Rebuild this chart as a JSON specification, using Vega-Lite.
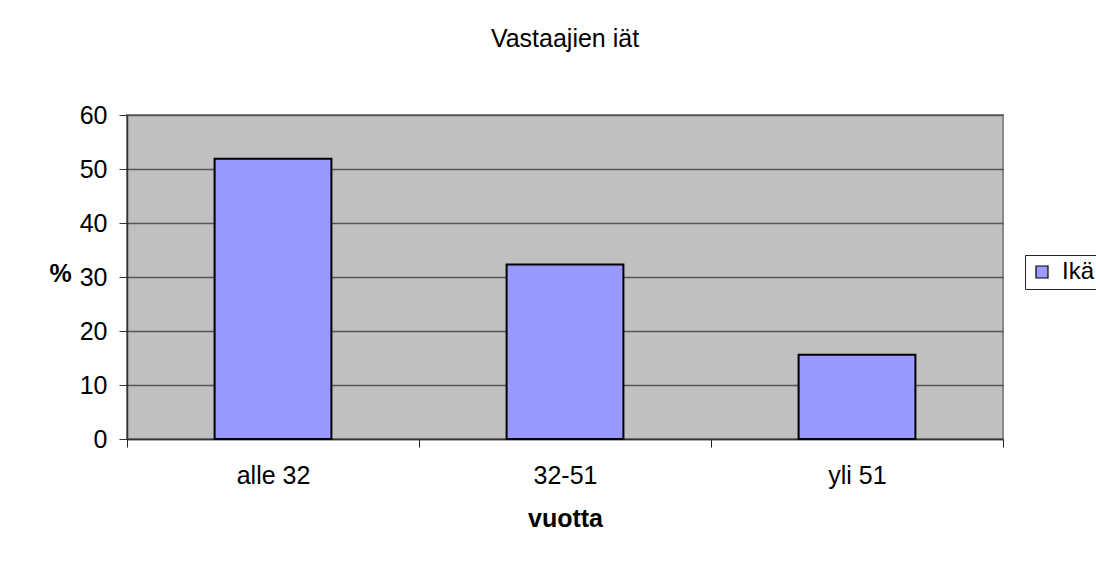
{
  "$schema": "https://vega.github.io/schema/vega-lite/v6.json",
  "width": 876,
  "height": 324,
  "autosize": "none",
  "padding": {"left": 127, "top": 115, "right": 93, "bottom": 126},
  "background": "white",
  "title": {
    "text": "Vastaajien iät",
    "font": "Liberation Sans",
    "fontSize": 25,
    "fontWeight": "normal",
    "color": "black",
    "anchor": "middle",
    "baseline": "alphabetic",
    "offset": 31
  },
  "data": {
    "values": [
      {"ika": "alle 32", "prosentti": 51.9, "sarja": "Ikä"},
      {"ika": "32-51", "prosentti": 32.3, "sarja": "Ikä"},
      {"ika": "yli 51", "prosentti": 15.6, "sarja": "Ikä"}
    ]
  },
  "mark": {"type": "bar", "stroke": "black", "strokeWidth": 2, "width": {"band": 0.4}},
  "encoding": {
    "x": {
      "field": "ika",
      "type": "nominal",
      "sort": ["alle 32", "32-51", "yli 51"],
      "scale": {"paddingInner": 0, "paddingOuter": 0},
      "axis": {
        "title": "vuotta",
        "labelAngle": 0,
        "tickBand": "extent",
        "tickSize": 8,
        "tickColor": "#222",
        "domainColor": "#333",
        "domainWidth": 1.5,
        "labelPadding": 16,
        "titlePadding": 18
      }
    },
    "y": {
      "field": "prosentti",
      "type": "quantitative",
      "scale": {"domain": [0, 60], "nice": false},
      "axis": {
        "title": "%",
        "titleAngle": 0,
        "titleAlign": "center",
        "titleBaseline": "middle",
        "titleX": -67,
        "titleY": 158,
        "values": [0, 10, 20, 30, 40, 50, 60],
        "tickSize": 8,
        "tickColor": "#333",
        "domainColor": "#333",
        "domainWidth": 1.5,
        "labelPadding": 12,
        "grid": true,
        "gridColor": "#555",
        "gridWidth": 1.5
      }
    },
    "color": {
      "field": "sarja",
      "type": "nominal",
      "scale": {"range": ["#9999FF"]},
      "legend": {
        "title": null,
        "orient": "none",
        "legendX": 898,
        "legendY": 140,
        "padding": 5,
        "strokeColor": "#222",
        "fillColor": "white",
        "symbolType": "square",
        "symbolSize": 144,
        "symbolStrokeColor": "black",
        "symbolStrokeWidth": 1.2,
        "labelOffset": 8,
        "labelFontSize": 24
      }
    }
  },
  "config": {
    "font": "Liberation Sans",
    "view": {"fill": "#C0C0C0", "stroke": "#8a8a8a", "strokeWidth": 2},
    "axis": {
      "labelFont": "Liberation Sans",
      "labelFontSize": 25,
      "labelColor": "black",
      "titleFont": "Liberation Sans",
      "titleFontSize": 25,
      "titleFontWeight": "bold",
      "titleColor": "black"
    },
    "legend": {"labelFont": "Liberation Sans", "labelColor": "black"}
  }
}
